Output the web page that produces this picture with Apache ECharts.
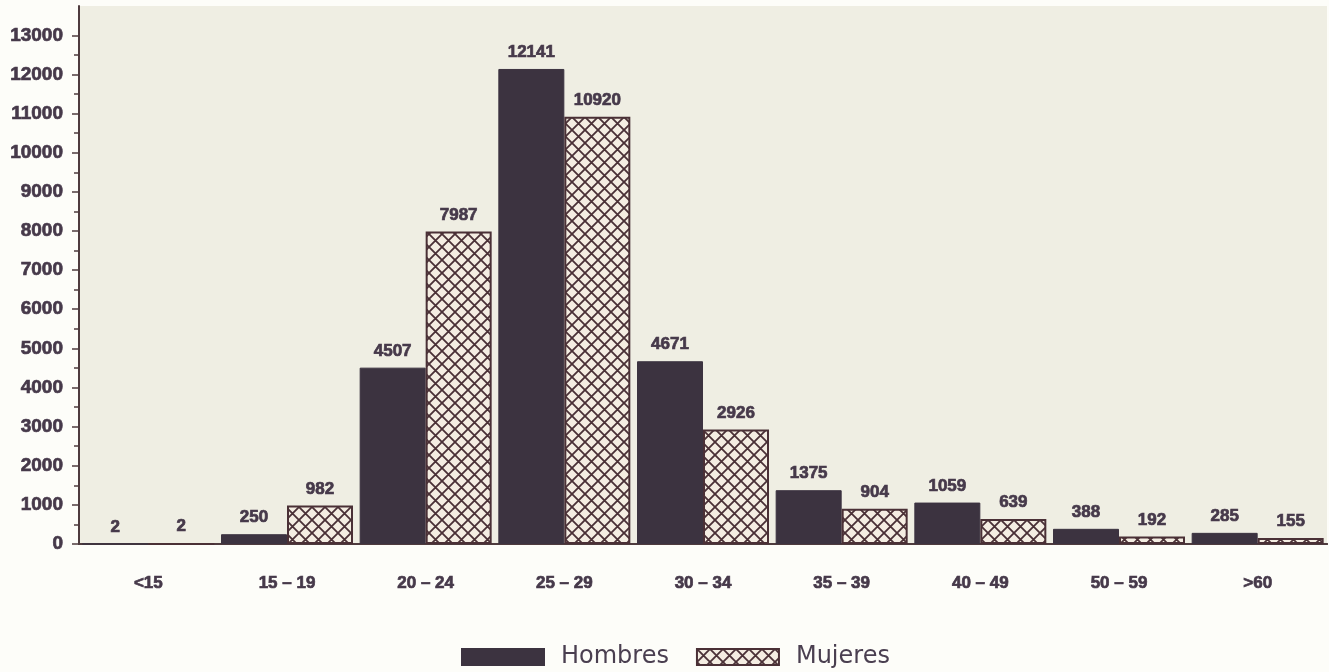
<!DOCTYPE html>
<html>
<head>
<meta charset="utf-8">
<script src="https://cdn.jsdelivr.net/npm/echarts@6/dist/echarts.min.js"></script>
<style>
  html, body { margin: 0; padding: 0; background: #fdfdf9; }
  #chart { width: 1329px; height: 672px; }
</style>
</head>
<body>
<div id="chart"></div>
<script>
const categories = ['<15', '15 – 19', '20 – 24', '25 – 29', '30 – 34', '35 – 39', '40 – 49', '50 – 59', '>60'];
const hombres = [2, 250, 4507, 12141, 4671, 1375, 1059, 388, 285];
const mujeres = [2, 982, 7987, 10920, 2926, 904, 639, 192, 155];
const majorTicks = [0, 1000, 2000, 3000, 4000, 5000, 6000, 7000, 8000, 9000, 10000, 11000, 12000, 13000];
const minorTicks = [500, 1500, 2500, 3500, 4500, 5500, 6500, 7500, 8500, 9500, 10500, 11500, 12500];

const DARK = '#3c3340';
const TEXT = '#46394a';
const LINE = '#4e3b3e';

function makeHatch(size, lw) {
  const c = document.createElement('canvas');
  c.width = size; c.height = size;
  const ctx = c.getContext('2d');
  ctx.fillStyle = '#f4ede2';
  ctx.fillRect(0, 0, size, size);
  ctx.strokeStyle = '#4a3036';
  ctx.lineWidth = lw;
  for (const dx of [-size, 0, size]) {
    ctx.beginPath();
    ctx.moveTo(dx, 0); ctx.lineTo(dx + size, size);
    ctx.moveTo(dx + size, 0); ctx.lineTo(dx, size);
    ctx.stroke();
  }
  return c;
}
const hatch = makeHatch(13, 1.8);

const boldText = {
  fontFamily: 'Liberation Sans', fontWeight: 'bold', color: TEXT,
  textBorderColor: TEXT, textBorderWidth: 0.7
};

const chart = echarts.init(document.getElementById('chart'), null, { renderer: 'canvas' });
chart.setOption({
  backgroundColor: '#fdfdf9',
  animation: false,
  grid: {
    left: 79, right: 2, top: 6, bottom: 128,
    show: true, backgroundColor: '#efeee3', borderWidth: 0
  },
  legend: {
    left: 456, top: 640,
    icon: 'rect',
    itemWidth: 82, itemHeight: 16, itemGap: 27,
    textStyle: { fontFamily: 'DejaVu Sans', fontSize: 24, color: '#4a3f50', padding: [0, 0, 0, 12] },
    data: ['Hombres', 'Mujeres']
  },
  xAxis: [{
    type: 'category', data: categories, position: 'bottom',
    axisLine: { show: true, lineStyle: { color: LINE, width: 2 } },
    axisTick: { show: false },
    axisLabel: Object.assign({ margin: 31, fontSize: 17 }, boldText)
  }, {
    type: 'category', data: categories, position: 'top',
    axisLine: { show: true, lineStyle: { color: LINE, width: 2 } },
    axisTick: { show: false }, axisLabel: { show: false }
  }],
  yAxis: [{
    type: 'value', min: 0, max: 13750, interval: 1000,
    splitLine: { show: false },
    axisLine: { show: true, lineStyle: { color: LINE, width: 2 } },
    axisTick: { show: true, length: 7, customValues: majorTicks, lineStyle: { color: LINE, width: 1.5 } },
    axisLabel: Object.assign({ margin: 16, customValues: majorTicks, fontSize: 19, formatter: v => String(v) }, boldText)
  }, {
    type: 'value', min: 0, max: 13750, interval: 500, position: 'left',
    splitLine: { show: false },
    axisLine: { show: false },
    axisTick: { show: true, length: 5, customValues: minorTicks, lineStyle: { color: LINE, width: 1.5 } },
    axisLabel: { show: false }
  }],
  series: [{
    name: 'Hombres', type: 'bar', data: hombres,
    barWidth: 66, barGap: '0%',
    itemStyle: { color: DARK, borderColor: DARK, borderWidth: 1 },
    label: Object.assign({ show: true, position: 'top', distance: 8, fontSize: 17 }, boldText)
  }, {
    name: 'Mujeres', type: 'bar', data: mujeres,
    barWidth: 66, barGap: '0%',
    itemStyle: { color: { image: hatch, repeat: 'repeat' }, borderColor: '#4a3036', borderWidth: 2 },
    label: Object.assign({ show: true, position: 'top', distance: 8, fontSize: 17 }, boldText)
  }]
});
</script>
</body>
</html>
